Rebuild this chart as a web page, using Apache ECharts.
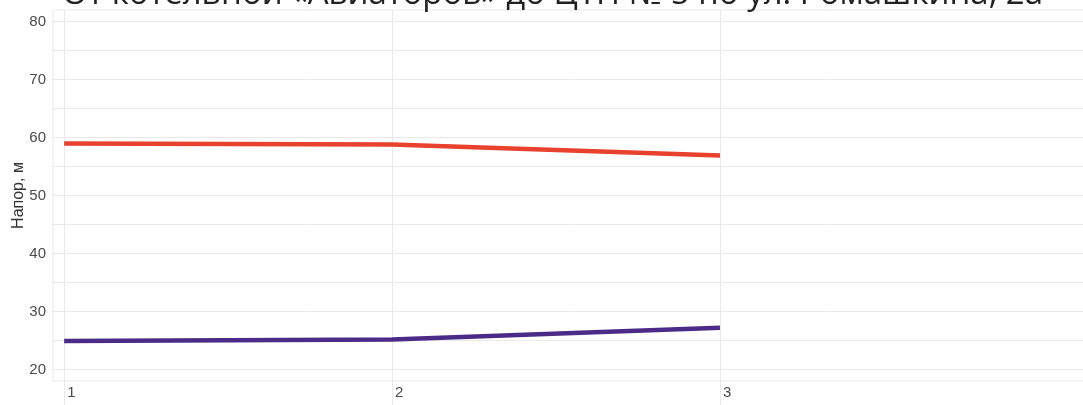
<!DOCTYPE html>
<html><head><meta charset="utf-8">
<script src="https://cdn.jsdelivr.net/npm/echarts@6/dist/echarts.min.js"></script>
<style>html,body{margin:0;padding:0;background:#fff}#c{width:1083px;height:405px}</style>
</head><body><div id="c"></div>
<script>
const title = 'От котельной «Авиаторов» до ЦТП № 5 по ул. Ромашкина, 2а';
const yName = 'Напор, м';
const xPoints = [1, 2, 3];
const supplyHead = [58.97, 58.8, 56.9];
const returnHead = [24.9, 25.17, 27.2];
const xTickValues = [1, 2, 3];
const yGridValues = [20, 25, 30, 35, 40, 45, 50, 55, 60, 65, 70, 75, 80];
const yLabelValues = [20, 30, 40, 50, 60, 70, 80];

const chart = echarts.init(document.getElementById('c'), null, {renderer: 'canvas'});
const gridColor = '#ebe8e8';
chart.setOption({
  animation: false,
  backgroundColor: '#fff',
  title: {
    text: title, left: 57, top: -27,
    textStyle: {fontFamily: 'Open Sans', fontSize: 33, fontWeight: 'normal', color: '#222'}
  },
  grid: {left: 53, right: -1, top: 10, bottom: 24, show: true, borderColor: gridColor, borderWidth: 1,
         containLabel: false, outerBoundsMode: 'none'},
  xAxis: {
    type: 'value', min: 0.966, max: 4.11,
    axisLine: {show: false},
    axisTick: {show: true, customValues: xTickValues, length: 24, inside: false, lineStyle: {color: gridColor}},
    splitLine: {show: true, lineStyle: {color: gridColor}},
    axisLabel: {customValues: xTickValues, align: 'left', margin: 4, color: '#4a4a4a', fontSize: 15, fontFamily: 'Liberation Sans', padding: [0,0,0,3]}
  },
  yAxis: {
    type: 'value', min: 18, max: 82,
    name: yName, nameLocation: 'middle', nameGap: 26, nameMoveOverlap: false,
    nameTextStyle: {color: '#333', fontSize: 16, fontFamily: 'Liberation Sans'},
    axisLine: {show: false},
    axisTick: {show: false, customValues: yGridValues},
    splitLine: {show: true, lineStyle: {color: gridColor}},
    axisLabel: {customValues: yLabelValues, margin: 7, color: '#4a4a4a', fontSize: 15, fontFamily: 'Liberation Sans'}
  },
  series: [
    {type: 'line', data: xPoints.map((x, i) => [x, supplyHead[i]]), showSymbol: false,
     lineStyle: {color: '#e8412e', width: 4.5}, itemStyle: {color: '#e8412e'}},
    {type: 'line', data: xPoints.map((x, i) => [x, returnHead[i]]), showSymbol: false,
     lineStyle: {color: '#4b2a88', width: 4.5}, itemStyle: {color: '#4b2a88'}}
  ]
});
</script></body></html>
